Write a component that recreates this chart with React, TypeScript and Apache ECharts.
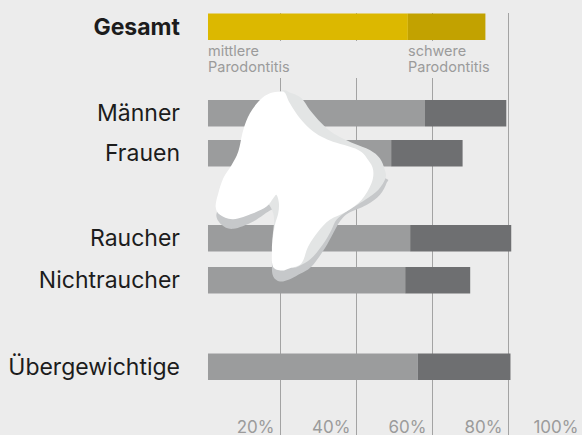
import React, { useEffect, useRef } from "react";
import * as echarts from "echarts";

const BG = "#ececec";
const FONT = "Inter, 'Liberation Sans', Arial, sans-serif";

// Bars start slightly to the right of the axis zero
const startOffset = 0.92;

const groups = [
  { labels: ["Gesamt"], moderate: [52.6], severe: [20.4], centre: 26.7, step: 40 },
  { labels: ["Männer", "Frauen"], moderate: [57.1, 48.2], severe: [21.4, 18.8], centre: 133.25, step: 40.1 },
  { labels: ["Raucher", "Nichtraucher"], moderate: [53.2, 51.9], severe: [26.6, 17.1], centre: 259.3, step: 42 },
  { labels: ["Übergewichtige"], moderate: [55.2], severe: [24.4], centre: 366.8, step: 40 },
];

const tickValues = [20, 40, 60, 80, 100];

const toothWhite = [[270,35],[285,38],[300,70],[330,115],[370,155],[420,182],[505,210],[535,240],[550,270],[545,310],[515,360],[470,395],[420,420],[385,455],[355,500],[335,550],[300,565],[275,572],[249,560],[246,510],[248,480],[255,435],[265,400],[267,370],[260,345],[250,355],[230,380],[190,400],[130,418],[90,405],[77,380],[85,340],[100,295],[125,255],[145,215],[160,150],[180,100],[210,60],[240,40]];
const toothLight = [[270,35],[305,40],[335,55],[360,90],[395,130],[430,160],[490,190],[540,210],[570,235],[585,270],[587,295],[565,330],[525,360],[470,395],[440,420],[425,450],[405,485],[370,530],[335,555],[300,560],[250,500],[250,400],[200,300],[200,100]];
const toothDark = [[587,295],[590,310],[570,345],[530,375],[475,400],[450,425],[430,460],[405,505],[365,560],[325,585],[300,598],[270,605],[250,590],[246,555],[250,480],[262,415],[263,398],[245,390],[190,425],[130,447],[95,435],[80,400],[120,350],[250,340],[400,300],[500,270]];

function smooth(points: number[][]): string {
  const n = points.length;
  let d = `M${points[0][0]} ${points[0][1]}`;
  for (let i = 0; i < n; i++) {
    const p0 = points[(i - 1 + n) % n], p1 = points[i], p2 = points[(i + 1) % n], p3 = points[(i + 2) % n];
    const c1x = p1[0] + (p2[0] - p0[0]) / 6, c1y = p1[1] + (p2[1] - p0[1]) / 6;
    const c2x = p2[0] - (p3[0] - p1[0]) / 6, c2y = p2[1] - (p3[1] - p1[1]) / 6;
    d += `C${c1x} ${c1y} ${c2x} ${c2y} ${p2[0]} ${p2[1]}`;
  }
  return d + "Z";
}

echarts.graphic.registerShape("toothWhite", echarts.graphic.extendPath(smooth(toothWhite) as any, {}) as any);
echarts.graphic.registerShape("toothLight", echarts.graphic.extendPath(smooth(toothLight) as any, {}) as any);
echarts.graphic.registerShape("toothDark", echarts.graphic.extendPath(smooth(toothDark) as any, {}) as any);

function buildOption(): any {
  const grids: any[] = [{ left: 204.5, width: 380, top: 13, height: 422 }];
  const xAxes: any[] = [{
    gridIndex: 0, type: "value", min: 0, max: 100, interval: 20, position: "bottom",
    axisLine: { show: false }, axisTick: { show: false },
    splitLine: { show: true, showMinLine: false, showMaxLine: false, lineStyle: { color: "#a3a3a3", width: 1 } },
    axisLabel: {
      inside: true, margin: 0, align: "right", color: "#9b9b9b", fontFamily: FONT, fontSize: 17,
      padding: [0, 6, 0, 0],
      formatter: (v: number) => (tickValues.includes(v) ? `${v}%` : ""),
    },
  }];
  const yAxes: any[] = [{ gridIndex: 0, type: "value", min: 0, max: 1, show: false }];
  const series: any[] = [];

  groups.forEach((g, i) => {
    const idx = i + 1;
    const h = g.step * g.labels.length;
    grids.push({ left: 204.5, width: 380, top: g.centre - h / 2, height: h });
    xAxes.push({ gridIndex: idx, type: "value", min: 0, max: 100, show: false, splitLine: { show: false } });
    yAxes.push({
      gridIndex: idx, type: "category", inverse: true, data: g.labels,
      axisLine: { show: false }, axisTick: { show: false },
      axisLabel: {
        margin: 24.5, fontFamily: FONT, fontSize: 23,
        color: "#1c1c1c", fontWeight: i === 0 ? "bold" : "normal",
      },
    });
    const common = { type: "bar", stack: `g${i}`, xAxisIndex: idx, yAxisIndex: idx, barWidth: 26.5, z: 3 };
    series.push({ ...common, name: `offset${i}`, data: g.labels.map(() => startOffset), itemStyle: { color: "transparent" }, silent: true });
    series.push({ ...common, name: "mittlere Parodontitis", data: g.moderate, itemStyle: { color: i === 0 ? "#dcb800" : "#9b9c9d" } });
    series.push({ ...common, name: "schwere Parodontitis", data: g.severe, itemStyle: { color: i === 0 ? "#c2a200" : "#6e6f71" } });
  });

  const toothPlace = { x: 190, y: 80, scaleX: 1 / 3, scaleY: 1 / 3 };
  return {
    animation: false,
    backgroundColor: BG,
    grid: grids, xAxis: xAxes, yAxis: yAxes, series,
    graphic: [
      { type: "rect", z: 1, shape: { x: 205, y: 41, width: 295, height: 37 }, style: { fill: BG } },
      { type: "text", z: 5, x: 208, y: 43, style: { text: "mittlere\nParodontitis", fill: "#9b9b9b", font: `14.5px ${FONT}`, lineHeight: 15.5 } },
      { type: "text", z: 5, x: 408, y: 43, style: { text: "schwere\nParodontitis", fill: "#9b9b9b", font: `14.5px ${FONT}`, lineHeight: 15.5 } },
      { type: "toothDark", z: 10, ...toothPlace, style: { fill: "#c6c8ca" } },
      { type: "toothLight", z: 11, ...toothPlace, style: { fill: "#e3e5e5" } },
      { type: "toothWhite", z: 12, ...toothPlace, style: { fill: "#ffffff" } },
    ],
  };
}

export default function App() {
  const ref = useRef<HTMLDivElement>(null);
  useEffect(() => {
    document.body.style.margin = "0";
    const chart = echarts.init(ref.current!, undefined, { renderer: "svg" });
    chart.setOption(buildOption());
    return () => chart.dispose();
  }, []);
  return (
    <div style={{ width: 582, height: 435, overflow: "hidden" }}>
      <div ref={ref} style={{ width: 600, height: 435 }} />
    </div>
  );
}
